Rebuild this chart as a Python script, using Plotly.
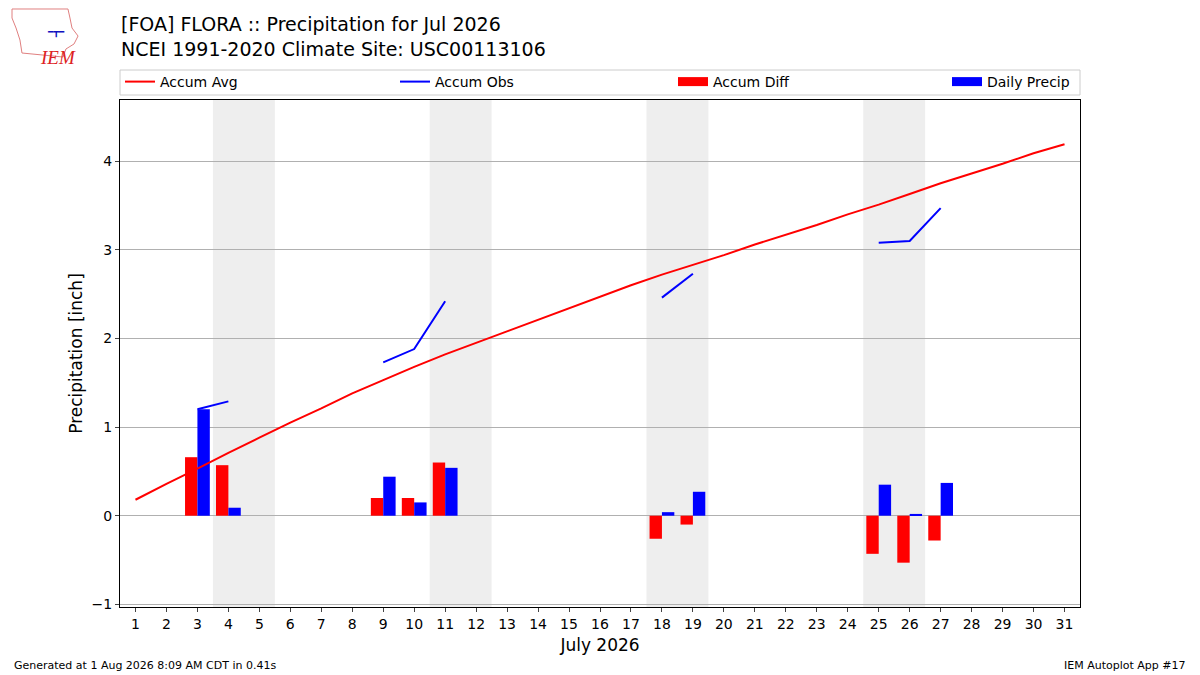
import plotly.graph_objects as go

# July 2026 climatology and observations for FLORA (USC00113106)
days = list(range(1, 32))
accum_avg = [0.18, 0.36, 0.53, 0.71, 0.88, 1.05, 1.21, 1.38, 1.53, 1.68,
             1.82, 1.95, 2.08, 2.21, 2.34, 2.47, 2.60, 2.72, 2.83, 2.94,
             3.06, 3.17, 3.28, 3.40, 3.51, 3.63, 3.75, 3.86, 3.97, 4.09, 4.19]

# accumulated obs only drawn on days with precipitation
obs_days = [3, 4, None, 9, 10, 11, None, 18, 19, None, 25, 26, 27]
accum_obs = [1.20, 1.29, None, 1.73, 1.88, 2.42, None, 2.46, 2.73, None, 3.08, 3.10, 3.47]

precip_days = [3, 4, 9, 10, 11, 18, 19, 25, 26, 27]
accum_diff = [0.66, 0.57, 0.20, 0.20, 0.60, -0.26, -0.10, -0.43, -0.53, -0.28]
daily_precip = [1.20, 0.09, 0.44, 0.15, 0.54, 0.04, 0.27, 0.35, 0.02, 0.37]

weekend_starts = [4, 11, 18, 25]

W, H = 1200, 675
ML, MR, MT, MB = 120, 120, 100, 68


def px2paper(px, py):
    # convert pixel position on the page into plot-area paper coords
    return ((px - ML) / (W - ML - MR), (H - MB - py) / (H - MT - MB))


fig = go.Figure()

fig.add_trace(go.Scatter(x=days, y=accum_avg, mode='lines', name='Accum Avg',
                         line=dict(color='red', width=2), legend='legend'))
fig.add_trace(go.Scatter(x=obs_days, y=accum_obs, mode='lines', name='Accum Obs',
                         line=dict(color='blue', width=2), connectgaps=False,
                         legend='legend2'))
fig.add_trace(go.Bar(x=precip_days, y=accum_diff, name='Accum Diff',
                     marker=dict(color='red', line=dict(width=0)),
                     width=0.4, offset=-0.4, showlegend=False))
fig.add_trace(go.Bar(x=precip_days, y=daily_precip, name='Daily Precip',
                     marker=dict(color='blue', line=dict(width=0)),
                     width=0.4, offset=0, showlegend=False))
# legend keys for the bars: thick line looks like matplotlib's patch
fig.add_trace(go.Scatter(x=[None], y=[None], mode='lines', name='Accum Diff',
                         line=dict(color='red', width=9), legend='legend3'))
fig.add_trace(go.Scatter(x=[None], y=[None], mode='lines', name='Daily Precip',
                         line=dict(color='blue', width=9), legend='legend4'))

# weekend shading
for d in weekend_starts:
    fig.add_shape(type='rect', xref='x', yref='paper', x0=d - 0.5, x1=d + 1.5,
                  y0=0, y1=1, fillcolor='#eeeeee', line=dict(width=0), layer='below')

# legend frame
lx0, ly0 = px2paper(120, 95)
lx1, ly1 = px2paper(1080, 70)
fig.add_shape(type='rect', xref='paper', yref='paper', x0=lx0, x1=lx1, y0=ly0, y1=ly1,
              line=dict(color='#cccccc', width=1), fillcolor='white')

# one legend per entry so they spread across the frame
legend_px = [120, 395, 673, 947]
_, legy = px2paper(0, 66)
legends = {}
for i, lpx in enumerate(legend_px):
    key = 'legend' if i == 0 else f'legend{i + 1}'
    legends[key] = dict(orientation='h', x=px2paper(lpx, 0)[0], xanchor='left',
                        y=legy, yanchor='top', bgcolor='rgba(0,0,0,0)',
                        borderwidth=0, font=dict(size=14))

# rough IEM logo outline
outline = [(12, 9), (68, 9), (70, 18), (72, 28), (78, 36), (74, 44), (66, 49),
           (63, 57), (22, 53), (20, 40), (16, 28), (12, 18)]
pts = [px2paper(a, b) for a, b in outline]
path = 'M ' + ' L '.join(f'{a:.4f},{b:.4f}' for a, b in pts) + ' Z'
fig.add_shape(type='path', xref='paper', yref='paper', path=path,
              line=dict(color='#e08080', width=1))
lgx, lgy = px2paper(38, 45)
fig.add_annotation(xref='paper', yref='paper', x=lgx, y=lgy, text='<i>IEM</i>',
                   showarrow=False, font=dict(family='Liberation Serif', size=19, color='#dd2222'))
bx, by = px2paper(45, 25)
fig.add_annotation(xref='paper', yref='paper', x=bx, y=by, text='━┳━',
                   showarrow=False, font=dict(size=9, color='#1010c0'))

# title
tx, ty = px2paper(119, 11)
fig.add_annotation(xref='paper', yref='paper', x=tx, y=ty, xanchor='left', yanchor='top',
                   align='left', showarrow=False,
                   text='[FOA] FLORA :: Precipitation for Jul 2026<br>NCEI 1991-2020 Climate Site: USC00113106',
                   font=dict(size=19, color='black'))

# footer
fx, fy = px2paper(12, 665)
fig.add_annotation(xref='paper', yref='paper', x=fx, y=fy, xanchor='left', yanchor='middle',
                   text='Generated at 1 Aug 2026 8:09 AM CDT in 0.41s', showarrow=False,
                   font=dict(size=11, color='black'))
rx, ry = px2paper(1188, 665)
fig.add_annotation(xref='paper', yref='paper', x=rx, y=ry, xanchor='right', yanchor='middle',
                   text='IEM Autoplot App #17', showarrow=False,
                   font=dict(size=11, color='black'))

fig.update_layout(
    width=W, height=H,
    margin=dict(l=ML, r=MR, t=MT, b=MB),
    paper_bgcolor='white', plot_bgcolor='white',
    font=dict(family='DejaVu Sans', size=14, color='black'),
    barmode='overlay',
    showlegend=True,
    **legends,
)

fig.update_xaxes(range=[0.5, 31.5], tickmode='array', tickvals=days,
                 ticks='outside', ticklen=4, showgrid=False, zeroline=False,
                 showline=True, linecolor='black', mirror=True,
                 title=dict(text='July 2026', font=dict(size=17), standoff=8))
fig.update_yaxes(range=[-1.03, 4.69], tickvals=[-1, 0, 1, 2, 3, 4],
                 ticks='outside', ticklen=4, showgrid=True, gridcolor='#b0b0b0',
                 zeroline=False, showline=True, linecolor='black', mirror=True,
                 title=dict(text='Precipitation [inch]', font=dict(size=17), standoff=4))

fig.write_html('out.html', config={'displayModeBar': False},
               post_script="document.body.style.margin='0';")
